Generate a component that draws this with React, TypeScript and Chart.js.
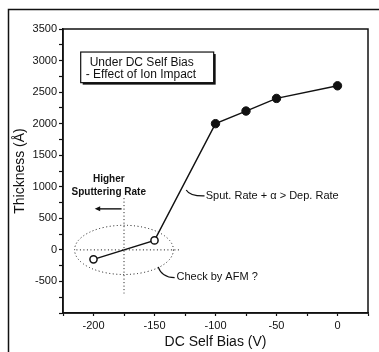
import React, { useEffect, useRef } from 'react';
import { Chart, registerables } from 'chart.js';

Chart.register(...registerables);

// ---- data ----
const biasV = [-200, -150, -100, -75, -50, 0];
const thickness = [-150, 150, 2000, 2200, 2400, 2600];
const openPoint = [true, true, false, false, false, false];
const xTickLabels = [-200, -150, -100, -50, 0];
const yTickLabels = [-500, 0, 500, 1000, 1500, 2000, 2500, 3000, 3500];

const FONT = '"Liberation Sans", Arial, sans-serif';

const annotationPlugin = {
  id: 'annotations',
  afterDraw(chart: any) {
    const { ctx, chartArea, scales } = chart;
    const xs = scales.x;
    const ys = scales.y;
    const px = (v: number) => xs.getPixelForValue(v);
    const py = (v: number) => ys.getPixelForValue(v);
    ctx.save();

    // outer frame (left & top)
    ctx.strokeStyle = '#111';
    ctx.lineWidth = 1.5;
    ctx.beginPath();
    ctx.moveTo(8.5, 360);
    ctx.lineTo(8.5, 9.5);
    ctx.lineTo(390, 9.5);
    ctx.stroke();

    // plot box
    ctx.lineWidth = 1.5;
    ctx.strokeRect(chartArea.left, chartArea.top, chartArea.right - chartArea.left, chartArea.bottom - chartArea.top);

    // text box with shadow
    const bx0 = px(-210.5), bx1 = px(-101.5), by0 = py(3135), by1 = py(2650);
    ctx.fillStyle = '#111';
    ctx.fillRect(bx0 + 2, by0 + 2, bx1 - bx0, by1 - by0);
    ctx.fillStyle = '#fff';
    ctx.fillRect(bx0, by0, bx1 - bx0, by1 - by0);
    ctx.lineWidth = 1.2;
    ctx.strokeRect(bx0, by0, bx1 - bx0, by1 - by0);
    ctx.fillStyle = '#111';
    ctx.font = `12px ${FONT}`;
    ctx.textBaseline = 'middle';
    ctx.textAlign = 'left';
    ctx.fillText('Under DC Self Bias', bx0 + 9, py(2970));
    ctx.fillText('- Effect of Ion Impact', bx0 + 5, py(2780));

    // dotted crosshair and ellipse
    ctx.setLineDash([1, 2.5]);
    ctx.lineWidth = 1;
    ctx.beginPath();
    ctx.moveTo(px(-175), py(820));
    ctx.lineTo(px(-175), py(-690));
    ctx.moveTo(px(-214), py(0));
    ctx.lineTo(px(-130), py(0));
    ctx.stroke();
    ctx.beginPath();
    const cx = px(-175), cy = py(0);
    const rx = px(-134.5) - cx, ry = py(-390) - cy;
    ctx.ellipse(cx, cy, rx, ry, 0, 0, Math.PI * 2);
    ctx.stroke();
    ctx.setLineDash([]);

    // Higher Sputtering Rate + arrow
    ctx.font = `bold 10px ${FONT}`;
    ctx.textAlign = 'center';
    ctx.fillText('Higher', px(-187.5), py(1125));
    ctx.fillText('Sputtering Rate', px(-187.5), py(915));
    ctx.lineWidth = 1.4;
    ctx.beginPath();
    const ay = py(650);
    ctx.moveTo(px(-177), ay);
    ctx.lineTo(px(-197), ay);
    ctx.stroke();
    ctx.beginPath();
    ctx.moveTo(px(-199), ay);
    ctx.lineTo(px(-194.5), ay - 2.5);
    ctx.lineTo(px(-194.5), ay + 2.5);
    ctx.closePath();
    ctx.fill();

    // Check by AFM ?
    ctx.lineWidth = 1.2;
    ctx.beginPath();
    ctx.moveTo(px(-147), py(-270));
    ctx.quadraticCurveTo(px(-144), py(-440), px(-133.5), py(-440));
    ctx.stroke();
    ctx.font = `11px ${FONT}`;
    ctx.textAlign = 'left';
    ctx.fillText('Check by AFM ?', px(-132), py(-430));

    // Sput. Rate + α > Dep. Rate
    ctx.beginPath();
    ctx.moveTo(px(-124), py(950));
    ctx.quadraticCurveTo(px(-121), py(850), px(-109), py(855));
    ctx.stroke();
    ctx.fillText('Sput. Rate + \u03b1 > Dep. Rate', px(-108), py(860));

    ctx.restore();
  },
};

export default function App() {
  const canvasRef = useRef<HTMLCanvasElement | null>(null);

  useEffect(() => {
    const canvas = canvasRef.current;
    if (!canvas) return;
    const chart = new Chart(canvas, {
      type: 'scatter',
      data: {
        datasets: [
          {
            data: biasV.map((x, i) => ({ x, y: thickness[i] })),
            showLine: true,
            borderColor: '#111',
            borderWidth: 1.4,
            pointRadius: openPoint.map((o) => (o ? 3.6 : 4.2)),
            pointBorderWidth: openPoint.map((o) => (o ? 1.5 : 1)),
            pointBackgroundColor: openPoint.map((o) => (o ? '#fff' : '#111')),
            pointBorderColor: '#111',
          },
        ],
      },
      options: {
        responsive: false,
        animation: false,
        events: [],
        layout: { padding: { left: 0, right: 11, top: 29, bottom: 0 } },
        plugins: { legend: { display: false }, tooltip: { enabled: false } },
        scales: {
          x: {
            type: 'linear',
            min: -225,
            max: 25,
            afterFit: (s: any) => {
              s.height = 39;
            },
            ticks: {
              stepSize: 25,
              color: '#111',
              padding: 3,
              maxRotation: 0,
              autoSkip: false,
              font: { family: FONT, size: 11 },
              callback: (v: any) => (xTickLabels.includes(Number(v)) ? String(v) : ''),
            },
            grid: { drawOnChartArea: false, drawTicks: true, tickLength: 3, color: '#111', tickWidth: 1.2 },
            border: { display: true, color: '#111', width: 1.5 },
            title: {
              display: true,
              text: 'DC Self Bias (V)',
              color: '#111',
              font: { family: FONT, size: 14 },
              padding: { top: 0, bottom: 1 },
            },
          },
          y: {
            type: 'linear',
            min: -1000,
            max: 3500,
            afterFit: (s: any) => {
              s.width = 63;
            },
            ticks: {
              stepSize: 250,
              color: '#111',
              padding: 2,
              autoSkip: false,
              font: { family: FONT, size: 11 },
              callback: (v: any) => (yTickLabels.includes(Number(v)) ? String(v) : ''),
            },
            grid: { drawOnChartArea: false, drawTicks: true, tickLength: 4, color: '#111', tickWidth: 1.2 },
            border: { display: true, color: '#111', width: 1.5 },
            title: {
              display: true,
              text: 'Thickness (\u00c5)',
              color: '#111',
              font: { family: FONT, size: 14 },
              padding: { top: 12, bottom: 0 },
            },
          },
        },
      },
      plugins: [annotationPlugin],
    });
    return () => chart.destroy();
  }, []);

  return (
    <div style={{ position: 'fixed', left: 0, top: 0, width: 379, height: 352, background: '#fff' }}>
      <canvas ref={canvasRef} width={379} height={352} style={{ display: 'block' }} />
    </div>
  );
}
